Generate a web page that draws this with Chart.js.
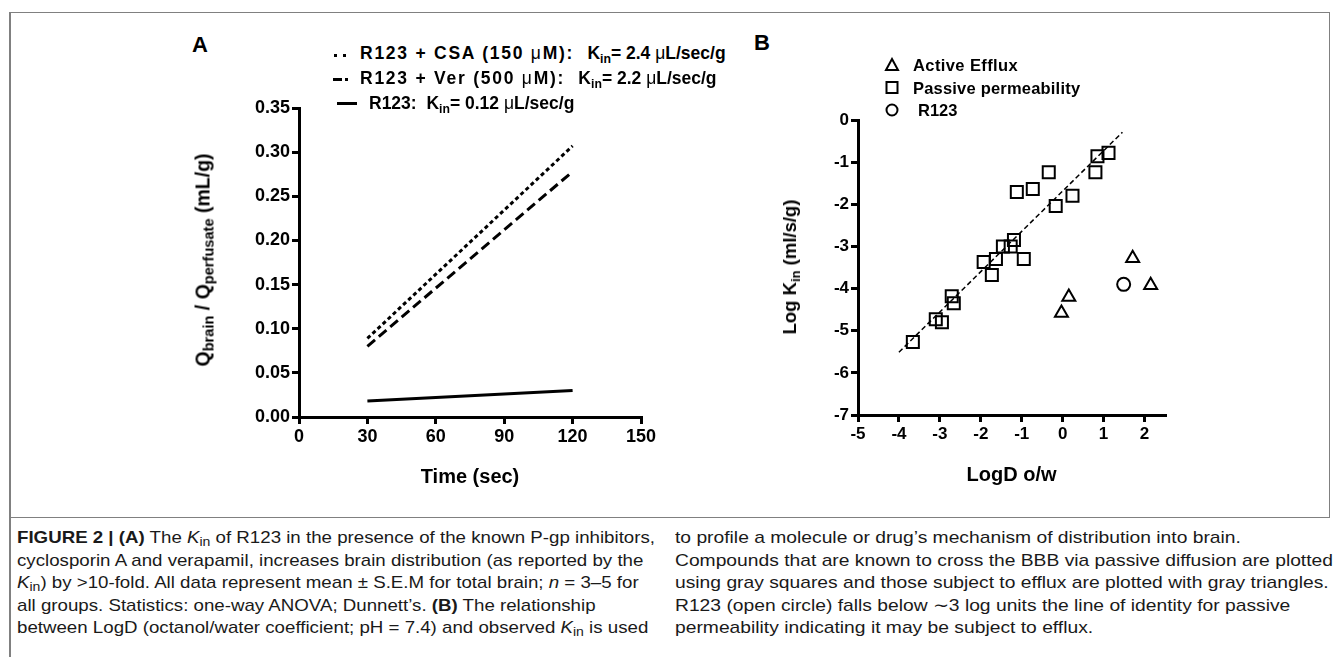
<!DOCTYPE html>
<html>
<head>
<meta charset="utf-8">
<script src="https://cdn.jsdelivr.net/npm/chart.js@4.4.1/dist/chart.umd.min.js"></script>
<style>
  body { margin: 0; background: #fff; }
  #page { position: relative; width: 1338px; height: 657px; overflow: hidden; background: #fff;
          font-family: "Liberation Sans", Arial, sans-serif; color: #000; }
  .abs { position: absolute; }
  canvas { position: absolute; }
  .lbl { font-weight: bold; white-space: nowrap; }
  .lbl sub { font-size: 70%; vertical-align: -0.3em; line-height: 0; }
  .ytA sub { font-size: 75%; }
  .mu { font-weight: normal; }
  .sp { letter-spacing: 1.75px; }
  .rot { transform: translate(-50%, -50%) rotate(-90deg); }
  .cap { position: absolute; top: 527px; font-family: "Liberation Sans Narrow", "Liberation Sans", Arial, sans-serif;
         font-size: 17px; line-height: 22.5px; color: #1a1a1a; transform-origin: 0 0; white-space: nowrap; }
  .cap sub { font-size: 75%; vertical-align: -0.25em; line-height: 0; }
</style>
</head>
<body>
<div id="page">
  <div class="abs" style="left:9px;top:12px;width:1319px;height:504px;border:1.5px solid #808080;"></div>
  <div class="abs" style="left:9px;top:12px;width:1.5px;height:645px;background:#808080;"></div>

  <canvas id="chartA" width="511" height="402" style="left:150px;top:90px;width:511px;height:402px;"></canvas>
  <canvas id="chartB" width="387" height="390" style="left:798px;top:100px;width:387px;height:390px;"></canvas>

  <!-- panel A labels -->
  <div class="abs lbl" style="left:192px;top:32px;font-size:22px;">A</div>
  <div class="abs lbl rot ytA" style="left:203px;top:260px;font-size:19.5px;">Q<sub>brain</sub> / Q<sub>perfusate</sub> (mL/g)</div>
  <div class="abs" style="left:334px;top:54px;width:3px;height:3px;background:#000;"></div>
  <div class="abs" style="left:343px;top:54px;width:3px;height:3px;background:#000;"></div>
  <div class="abs" style="left:333px;top:78px;width:9px;height:3px;background:#000;"></div>
  <div class="abs" style="left:345px;top:78px;width:3px;height:3px;background:#000;"></div>
  <div class="abs" style="left:337px;top:102px;width:20px;height:3px;background:#000;"></div>
  <div class="abs lbl" style="left:360px;top:43px;font-size:17.5px;"><span class="sp">R123 + CSA (150 <span class="mu">μ</span>M):&nbsp; </span>K<sub>in</sub>= 2.4 <span class="mu">μ</span>L/sec/g</div>
  <div class="abs lbl" style="left:360px;top:68px;font-size:17.5px;"><span class="sp">R123 + Ver (500 <span class="mu">μ</span>M):&nbsp; </span>K<sub>in</sub>= 2.2 <span class="mu">μ</span>L/sec/g</div>
  <div class="abs lbl" style="left:369px;top:93px;font-size:17.5px;">R123:&nbsp; K<sub>in</sub>= 0.12 <span class="mu">μ</span>L/sec/g</div>

  <!-- panel B labels -->
  <div class="abs lbl" style="left:754px;top:30px;font-size:22px;">B</div>
  <div class="abs lbl rot" style="left:790px;top:267px;font-size:18.5px;">Log K<sub>in</sub> (ml/s/g)</div>
  <svg class="abs" style="left:884px;top:57px;" width="16" height="62">
    <polygon points="8,2 14,13 2,13" fill="none" stroke="#000" stroke-width="2"/>
    <rect x="2.5" y="25" width="11" height="11" fill="none" stroke="#000" stroke-width="2"/>
    <circle cx="8" cy="53" r="5.5" fill="none" stroke="#000" stroke-width="2"/>
  </svg>
  <div class="abs lbl" style="left:913px;top:56px;font-size:16.5px;letter-spacing:0.4px;">Active Efflux</div>
  <div class="abs lbl" style="left:913px;top:79px;font-size:16.5px;letter-spacing:0.2px;">Passive permeability</div>
  <div class="abs lbl" style="left:918px;top:101px;font-size:16.5px;">R123</div>

  <!-- caption -->
  <div class="cap" id="capL" style="left:17px;">
    <div id="capL1"><span><b>FIGURE 2 | (A)</b> The <i>K</i><sub>in</sub> of R123 in the presence of the known P-gp inhibitors,</span></div>
    <div>cyclosporin A and verapamil, increases brain distribution (as reported by the</div>
    <div><i>K</i><sub>in</sub>) by &gt;10-fold. All data represent mean ± S.E.M for total brain; <i>n</i> = 3–5 for</div>
    <div>all groups. Statistics: one-way ANOVA; Dunnett’s. <b>(B)</b> The relationship</div>
    <div>between LogD (octanol/water coefficient; pH = 7.4) and observed <i>K</i><sub>in</sub> is used</div>
  </div>
  <div class="cap" id="capR" style="left:675px;">
    <div>to profile a molecule or drug’s mechanism of distribution into brain.</div>
    <div id="capR2"><span>Compounds that are known to cross the BBB via passive diffusion are plotted</span></div>
    <div>using gray squares and those subject to efflux are plotted with gray triangles.</div>
    <div>R123 (open circle) falls below ∼3 log units the line of identity for passive</div>
    <div>permeability indicating it may be subject to efflux.</div>
  </div>
</div>

<script>
// panel A: uptake over time
var timeSec = [30, 120];
var csaQ = [0.089, 0.307];
var verQ = [0.080, 0.278];
var r123Q = [0.018, 0.030];

// panel B: LogD vs Log Kin
var passiveLogD = [1.12, 0.85, 0.80, -0.34, -0.73, -1.12, 0.24, -0.17, -1.19, -1.27, -1.46, -0.95, -1.63, -1.93, -1.73, -2.71, -2.66, -3.10, -2.95, -3.66];
var passiveLogK = [-0.78, -0.86, -1.24, -1.24, -1.64, -1.71, -1.80, -2.04, -2.85, -3.00, -3.00, -3.30, -3.30, -3.37, -3.68, -4.18, -4.35, -4.73, -4.80, -5.27];
var effluxLogD = [1.71, 2.15, 0.15, -0.03];
var effluxLogK = [-3.28, -3.92, -4.20, -4.58];
var r123LogD = [1.49];
var r123LogK = [-3.90];
var fitLogD = [-4.0, 1.46];
var fitLogK = [-5.51, -0.29];
var logDTicks = [-5, -4, -3, -2, -1, 0, 1, 2];

function pts(xs, ys) {
	var out = [];
	for (var i in xs) {
		out.push({x: xs[i], y: ys[i]});
	}
	return out;
}

var boldFont = function(size) {
	return {family: '"Liberation Sans", Arial, sans-serif', weight: 'bold', size: size};
};

function axisStyle(fontSize) {
	return {
		grid: {drawOnChartArea: false, drawTicks: true, tickLength: 7, lineWidth: 3, color: '#000'},
		border: {display: true, width: 3, color: '#000'},
		ticks: {color: '#000', font: boldFont(fontSize), padding: 2}
	};
}

var axA_x = axisStyle(18);
axA_x.type = 'linear';
axA_x.min = 0;
axA_x.max = 150;
axA_x.ticks.stepSize = 30;
axA_x.afterFit = function(scale) { scale.height = 75; };
axA_x.title = {display: true, text: 'Time (sec)', color: '#000', font: boldFont(20), padding: {top: 0, bottom: 3}};

var axA_y = axisStyle(18);
axA_y.min = 0;
axA_y.max = 0.35;
axA_y.ticks.stepSize = 0.05;
axA_y.ticks.callback = function(v) { return v.toFixed(2); };
axA_y.afterFit = function(scale) { scale.width = 149; };

new Chart(document.getElementById('chartA'), {
	type: 'line',
	data: {
		datasets: [
			{label: 'R123 + CSA', data: pts(timeSec, csaQ), borderColor: '#000', borderWidth: 3, borderDash: [4, 3], pointRadius: 0},
			{label: 'R123 + Ver', data: pts(timeSec, verQ), borderColor: '#000', borderWidth: 3, borderDash: [10, 5], pointRadius: 0},
			{label: 'R123', data: pts(timeSec, r123Q), borderColor: '#000', borderWidth: 3, pointRadius: 0}
		]
	},
	options: {
		responsive: false,
		animation: false,
		layout: {padding: {top: 18, right: 20, left: 0, bottom: 0}},
		plugins: {legend: {display: false}, tooltip: {enabled: false}},
		scales: {x: axA_x, y: axA_y}
	}
});

var axB_x = axisStyle(17);
axB_x.type = 'linear';
axB_x.min = -5;
axB_x.max = 2.5;
axB_x.afterBuildTicks = function(scale) {
	scale.ticks = logDTicks.map(function(v) { return {value: v}; });
};
axB_x.afterFit = function(scale) { scale.height = 75; };
axB_x.title = {display: true, text: 'LogD o/w', color: '#000', font: boldFont(20), padding: {top: 0, bottom: 3}};

var axB_y = axisStyle(17);
axB_y.min = -7;
axB_y.max = 0;
axB_y.ticks.stepSize = 1;
axB_y.afterFit = function(scale) { scale.width = 60; };

new Chart(document.getElementById('chartB'), {
	type: 'scatter',
	data: {
		datasets: [
			{label: 'Identity', type: 'line', data: pts(fitLogD, fitLogK), borderColor: '#000', borderWidth: 1.5, borderDash: [5, 3], pointRadius: 0},
			{label: 'Passive permeability', data: pts(passiveLogD, passiveLogK), pointStyle: 'rect', pointRadius: 8.5, borderColor: '#000', borderWidth: 2, backgroundColor: 'rgba(0,0,0,0)'},
			{label: 'Active Efflux', data: pts(effluxLogD, effluxLogK), pointStyle: 'triangle', pointRadius: 7.5, borderColor: '#000', borderWidth: 2, backgroundColor: 'rgba(0,0,0,0)'},
			{label: 'R123', data: pts(r123LogD, r123LogK), pointStyle: 'circle', pointRadius: 6.5, borderColor: '#000', borderWidth: 2, backgroundColor: 'rgba(0,0,0,0)'}
		]
	},
	options: {
		responsive: false,
		animation: false,
		layout: {padding: {top: 20, right: 20, left: 0, bottom: 0}},
		plugins: {legend: {display: false}, tooltip: {enabled: false}},
		scales: {x: axB_x, y: axB_y}
	}
});

// squeeze caption columns to the reference widths
function fitCol(colId, spanParentId, target) {
	var col = document.getElementById(colId);
	var w = document.querySelector('#' + spanParentId + ' span').getBoundingClientRect().width;
	col.style.transform = 'scaleX(' + (target / w) + ')';
}
fitCol('capL', 'capL1', 638);
fitCol('capR', 'capR2', 658);
</script>
</body>
</html>
